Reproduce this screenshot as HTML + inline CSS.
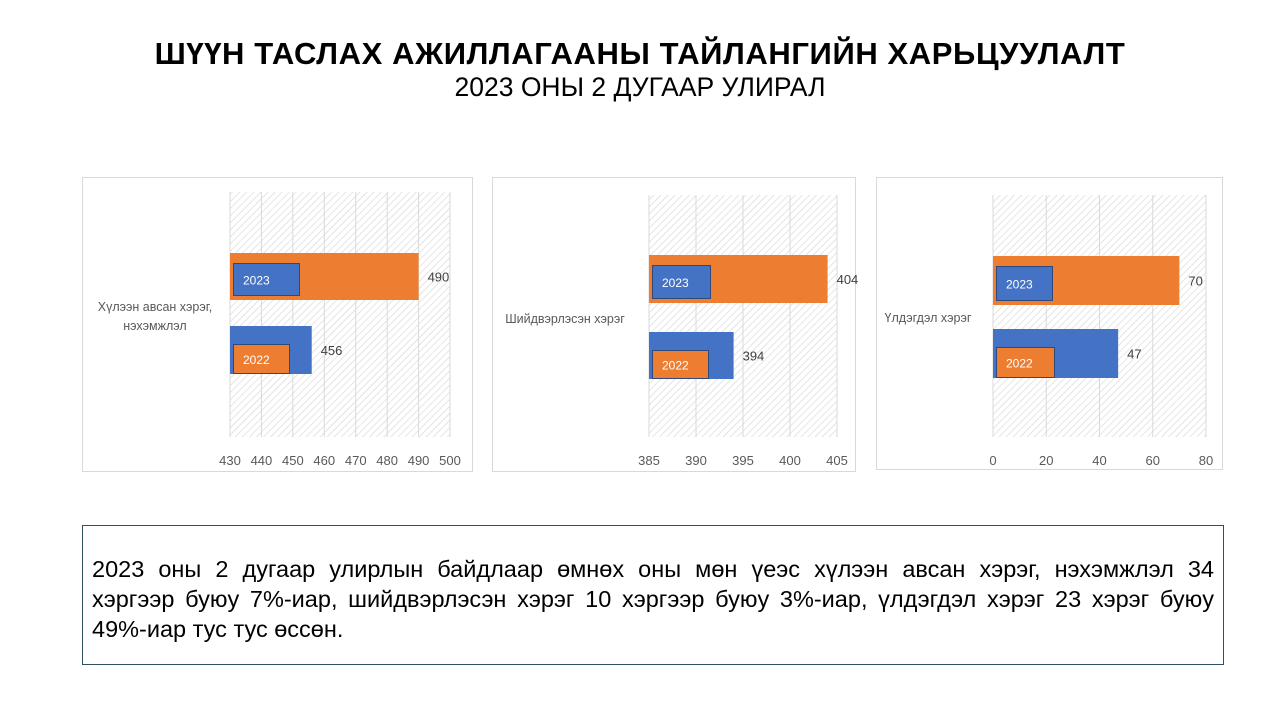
<!DOCTYPE html>
<html><head><meta charset="utf-8"><style>
body{margin:0;width:1280px;height:720px;background:#fff;font-family:"Liberation Sans",sans-serif;overflow:hidden;position:relative}
.t1{position:absolute;top:36px;left:0;width:1280px;text-align:center;font-weight:bold;font-size:31px;letter-spacing:0.6px;color:#000}
.t2{position:absolute;top:72px;left:0;width:1280px;text-align:center;font-size:26.5px;color:#000}
.note{position:absolute;left:82px;top:525px;width:1142px;height:140px;border:1px solid #2f5061;box-sizing:border-box;padding:28px 9px 0 9px;font-size:23.5px;line-height:30px;color:#000}
.note .j{text-align:justify;text-align-last:justify}
svg{position:absolute;left:0;top:0}
</style></head><body>
<div class="t1">ШҮҮН ТАСЛАХ АЖИЛЛАГААНЫ ТАЙЛАНГИЙН ХАРЬЦУУЛАЛТ</div>
<div class="t2">2023 ОНЫ 2 ДУГААР УЛИРАЛ</div>
<svg id="c" width="1280" height="720">
<defs><pattern id="h" width="5" height="5" patternUnits="userSpaceOnUse" patternTransform="rotate(45)"><rect width="5" height="5" fill="#fff"/><line x1="0" y1="0" x2="0" y2="5" stroke="#d4d4d4" stroke-width="1.2"/></pattern></defs>
</svg>
<div class="note"><div class="j">2023 оны 2 дугаар улирлын байдлаар өмнөх оны мөн үеэс хүлээн авсан хэрэг, нэхэмжлэл 34</div><div class="j">хэргээр буюу 7%-иар, шийдвэрлэсэн хэрэг 10 хэргээр буюу 3%-иар, үлдэгдэл хэрэг 23 хэрэг буюу</div><div>49%-иар тус тус өссөн.</div></div>
<script>
const categories=["Хүлээн авсан хэрэг, нэхэмжлэл","Шийдвэрлэсэн хэрэг","Үлдэгдэл хэрэг"];
const values2023=[490,404,70];
const values2022=[456,394,47];
const ticks1=[430,440,450,460,470,480,490,500];
const ticks2=[385,390,395,400,405];
const ticks3=[0,20,40,60,80];
const tickSets=[ticks1,ticks2,ticks3];
const layouts=[
 {box:[82,177,390,294],px:[230,450],py:[192,437],b23:[253,300],b22:[326,374],lab:[[155,311]],labW:66,labW2:56},
 {box:[492,177,363,294],px:[649,837],py:[195,437],b23:[255,303],b22:[332,379],lab:[[565,323]],labW:58,labW2:56},
 {box:[876,177,346,292],px:[993,1206],py:[195,437],b23:[256,305],b22:[329,378],lab:[[928,322]],labW:56,labW2:58}
];
const svg=document.getElementById('c');
const NS='http://www.w3.org/2000/svg';
function mk(t,a,p){const e=document.createElementNS(NS,t);for(const k in a)e.setAttribute(k,a[k]);(p||svg).appendChild(e);return e;}
const labLines=[["Хүлээн авсан хэрэг,","нэхэмжлэл"],["Шийдвэрлэсэн хэрэг"],["Үлдэгдэл хэрэг"]];
layouts.forEach((L,i)=>{
 const g=mk('g',{});
 
 
 const b=mk('rect',{x:L.box[0]+.5,y:L.box[1]+.5,width:L.box[2],height:L.box[3],fill:'#fff',stroke:'#d9d9d9'},g);
 
 
 const tk=tickSets[i],mn=tk[0],mx=tk[tk.length-1];
 const X=v=>L.px[0]+(v-mn)/(mx-mn)*(L.px[1]-L.px[0]);
 mk('rect',{x:L.px[0],y:L.py[0],width:L.px[1]-L.px[0],height:L.py[1]-L.py[0],fill:'url(#h)'},g);
 tk.forEach(t=>{
  mk('line',{x1:X(t),x2:X(t),y1:L.py[0],y2:L.py[1],stroke:'#d9d9d9'},g);
  const tx=mk('text',{x:X(t),y:L.py[1]+28,'text-anchor':'middle','font-size':13,fill:'#595959'},g);
  tx.textContent=t;
  
  
 });
 mk('line',{x1:L.px[0],x2:L.px[0],y1:L.py[0],y2:L.py[1],stroke:'#d9d9d9'},g);
 const r23=mk('rect',{x:X(mn),y:L.b23[0],width:X(values2023[i])-X(mn),height:L.b23[1]-L.b23[0],fill:'#ed7d31'},g);
 
 
 const r22=mk('rect',{x:X(mn),y:L.b22[0],width:X(values2022[i])-X(mn),height:L.b22[1]-L.b22[0],fill:'#4472c4'},g);
 
 
 [[values2023[i],L.b23],[values2022[i],L.b22]].forEach(([v,bb])=>{
  const t=mk('text',{x:X(v)+9,y:(bb[0]+bb[1])/2+5,'font-size':13,fill:'#404040'},g);
  t.textContent=v;
  
  
 });
 [['2023',L.b23[0]+10,L.b23[1]-4,'#4472c4',L.labW],['2022',L.b22[0]+18,L.b22[1],'#ed7d31',L.labW2]].forEach(([s,y0,y1,c,w])=>{
  const h=y1-y0;
  const r=mk('rect',{x:L.px[0]+3.5,y:y0+.5,width:w,height:h-1,fill:c,stroke:'#2f4a7a'},g);
  
  
  const t=mk('text',{x:L.px[0]+13,y:y0+h/2+5,'font-size':12,fill:'#fff'},g);
  t.textContent=s;
  
  
 });
 labLines[i].forEach((ln,j)=>{
  const t=mk('text',{x:L.lab[0][0],y:L.lab[0][1]+j*19,'text-anchor':'middle','font-size':12.5,fill:'#595959'},g);
  t.textContent=ln;
  
  
 });
});
</script>
</body></html>
